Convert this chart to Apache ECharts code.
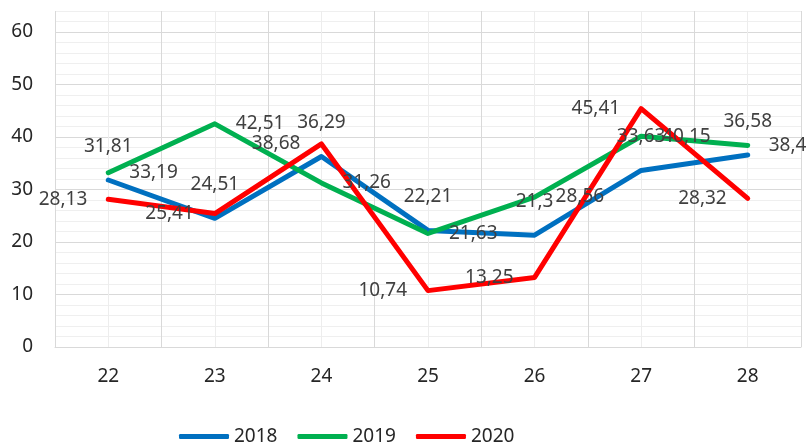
<!DOCTYPE html>
<html>
<head>
<meta charset="utf-8">
<script src="https://cdn.jsdelivr.net/npm/echarts@6/dist/echarts.min.js"></script>
<style>
    body { margin: 0; background: #fff; }
</style>
</head>
<body>
<div id="main" style="width: 808px; height: 448px;"></div>
<script>
const log = console.log.bind(console)
const e = sel => document.querySelector(sel)

const days = ['22', '23', '24', '25', '26', '27', '28']
const v2018 = [31.81, 24.51, 36.29, 22.21, 21.3, 33.63, 36.58]
const v2019 = [33.19, 42.51, 31.26, 21.63, 28.56, 40.15, 38.4]
const v2020 = [28.13, 25.41, 38.68, 10.74, 13.25, 45.41, 28.32]
const yTicks = [0, 10, 20, 30, 40, 50, 60]

const font = 'Noto Sans'
const comma = p => String(p.value).replace('.', ',')

const makeSeries = (name, data, color, pos) => {
    let dist = pos === 'top' ? 23 : 20
    return {
        name: name,
        type: 'line',
        data: data,
        symbol: 'circle',
        symbolSize: 2,
        itemStyle: { color: color },
        lineStyle: { color: color, width: 5, cap: 'round', join: 'round' },
        label: {
            show: true,
            position: pos,
            distance: dist,
            formatter: comma,
            color: '#404040',
            fontFamily: font,
            fontSize: 19,
        },
        emphasis: { disabled: true },
    }
}

const __main = () => {
    let chart = echarts.init(e('#main'))
    let option = {
        animation: false,
        backgroundColor: '#ffffff',
        grid: { left: 55, right: 7, top: 11, bottom: 101 },
        legend: {
            left: 179,
            top: 427,
            padding: 0,
            icon: 'roundRect',
            itemWidth: 50,
            itemHeight: 5,
            itemGap: 20,
            textStyle: { color: '#262626', fontFamily: font, fontSize: 19 },
            data: ['2018', '2019', '2020'],
        },
        xAxis: [
            {
                type: 'category',
                data: days,
                boundaryGap: true,
                axisLine: { lineStyle: { color: '#d9d9d9', width: 1 } },
                axisTick: { show: false },
                splitLine: { show: false },
                axisLabel: { color: '#262626', fontFamily: font, fontSize: 19, margin: 20 },
            },
            {
                type: 'value',
                min: 0,
                max: days.length * 2,
                interval: 1,
                position: 'bottom',
                axisLine: { show: false },
                axisTick: { show: false },
                axisLabel: { show: false },
                splitLine: { show: true, lineStyle: { color: ['#d9d9d9', '#ededed'], width: 1 } },
            },
        ],
        yAxis: {
            type: 'value',
            min: 0,
            max: 64,
            interval: 2,
            axisLine: { show: false },
            axisTick: { show: false },
            axisLabel: {
                color: '#262626',
                fontFamily: font,
                fontSize: 19,
                margin: 22,
                formatter: v => yTicks.includes(v) ? String(v) : '',
            },
            splitLine: {
                show: true,
                lineStyle: { color: ['#d9d9d9', '#efefef', '#efefef', '#efefef', '#efefef'], width: 1 },
            },
        },
        series: [
            makeSeries('2018', v2018, '#0070c0', 'top'),
            makeSeries('2019', v2019, '#00b050', 'right'),
            makeSeries('2020', v2020, '#ff0000', 'left'),
        ],
    }
    chart.setOption(option)
}

__main()
</script>
</body>
</html>
